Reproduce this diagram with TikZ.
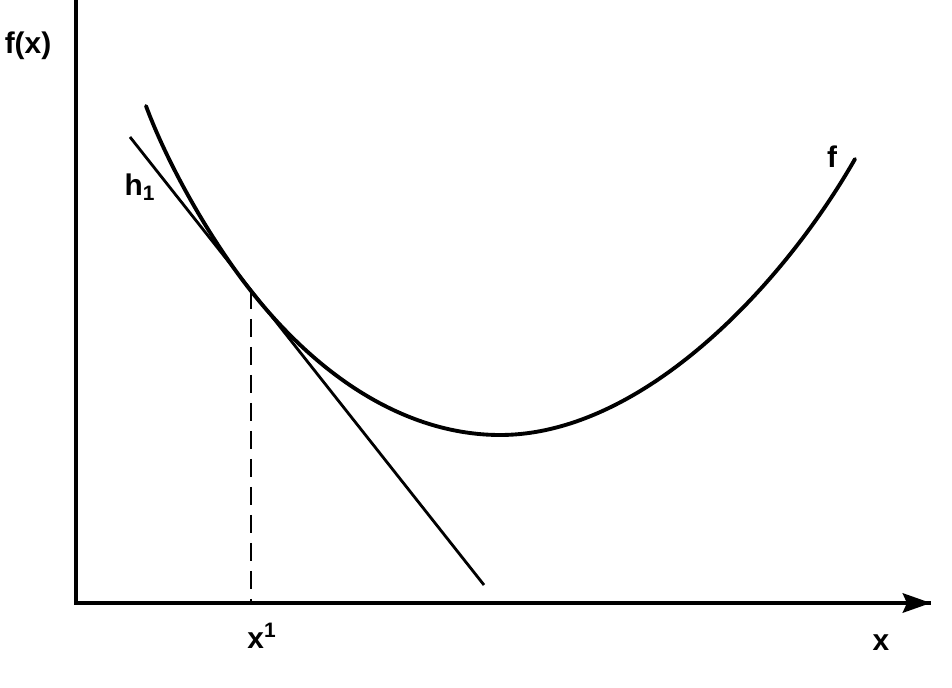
\documentclass[tikz,border=0pt]{standalone}
\usepackage{fontspec}
\setmainfont{Liberation Sans}
\usetikzlibrary{arrows.meta}
\tikzset{
  axisline/.style={line width=2.8pt},
  curveline/.style={line width=2.2pt, line cap=round},
  tangentline/.style={line width=1.6pt},
  dropline/.style={line width=1.4pt, dash pattern=on 0.36cm off 0.2cm},
  lbl/.style={font=\bfseries\fontsize{17}{20}\selectfont, inner sep=0pt},
}
\begin{document}
\begin{tikzpicture}[x=0.02cm,y=-0.02cm]
\useasboundingbox (0,0) rectangle (952,688);
\coordinate (ytop) at (76,0);
\coordinate (O) at (76,603);
\coordinate (xend) at (931,603);
\coordinate (h1a) at (130,137);
\coordinate (h1b) at (484,585);
\coordinate (T) at (251,291);
\coordinate (Tfoot) at (251,603);
\coordinate (fstart) at (146,106);
\coordinate (fmin) at (500,435);
\coordinate (fend) at (855,159);
\draw[axisline] (ytop) -- (O) -- (xend);
\draw[axisline,-{Stealth[length=0.56cm,width=0.38cm,inset=0.08cm]}] (O) -- (xend);
\draw[tangentline] (h1a) -- (h1b);
\draw[dropline] (T) -- (Tfoot);
\draw[curveline] (fstart) .. controls (171,173) and (216,247) .. (T)
  .. controls (331,392) and (420,435) .. (fmin)
  .. controls (640,435) and (780,290) .. (fend);
\node[lbl] (fx) at (28,46) {f(x)};
\node[lbl] (h1) at (140,187) {h\textsubscript{1}};
\node[lbl] (flab) at (832,157) {f};
\node[lbl] (x1) at (262,636) {x\textsuperscript{1}};
\node[lbl] (xlab) at (881,643) {x};
\end{tikzpicture}
\end{document}
